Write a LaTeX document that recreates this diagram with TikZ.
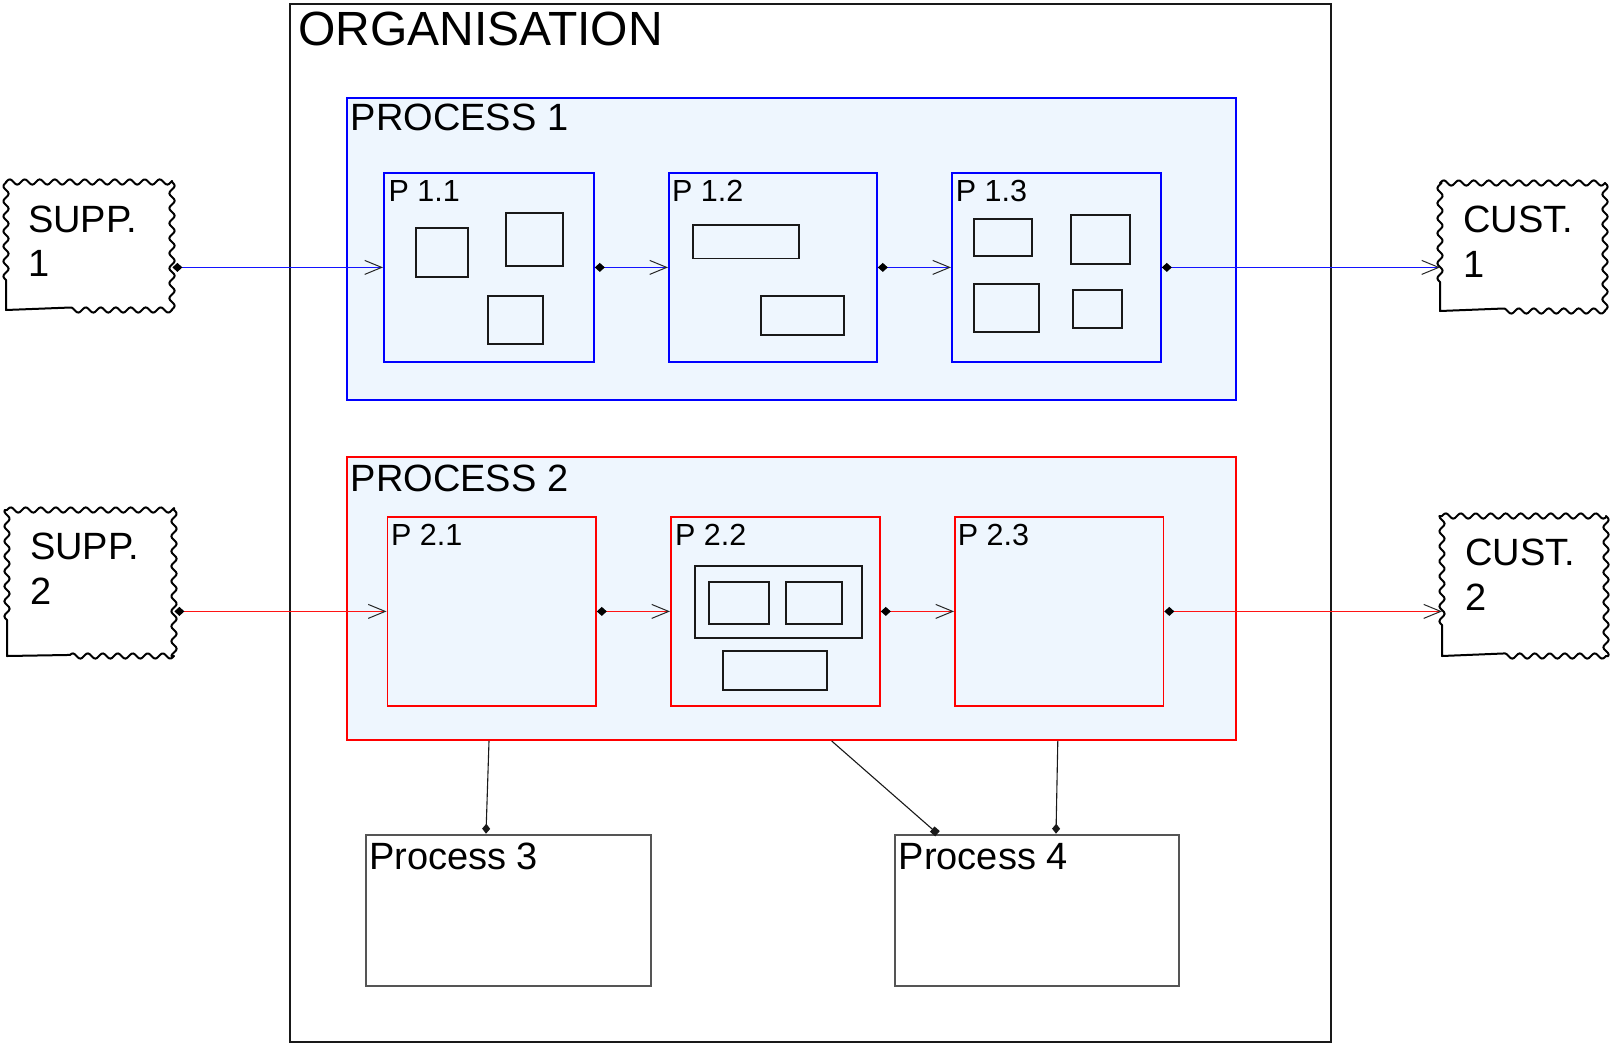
\documentclass[tikz,border=0pt]{standalone}
\usepackage{fontspec}
\setmainfont{Liberation Sans}
\usetikzlibrary{arrows.meta,calc}

\definecolor{paleblue}{RGB}{238,246,254}
\definecolor{boxgray}{RGB}{85,85,85}
\definecolor{linkblue}{RGB}{20,20,255}
\definecolor{linkred}{RGB}{255,20,20}

\tikzset{
  box/.style={rectangle, inner sep=0pt, anchor=north west},
  orgbox/.style={box, draw=black!90, line width=2pt},
  groupblue/.style={box, draw=blue, fill=paleblue, line width=2pt},
  groupred/.style={box, draw=red, fill=paleblue, line width=2pt},
  stepblue/.style={box, draw=blue, line width=1.8pt},
  stepred/.style={box, draw=red, line width=1.8pt},
  plainbox/.style={box, draw=boxgray, line width=2pt, fill=white},
  detail/.style={draw=black!90, line width=1.8pt},
  area/.style={box, minimum width=0pt},
  wavyline/.style={draw=black, line width=2pt, line join=round},
  lbl/.style={inner sep=0pt, anchor=base west},
  flow/.style={line width=1.2pt,
    {Diamond[length=10pt,width=9pt,color=black]}-{Straight Barb[length=17pt,width=14pt,line width=1pt,color=black!85]}},
  flowblue/.style={flow, draw=linkblue},
  flowred/.style={flow, draw=linkred},
  feed/.style={line width=1.1pt, draw=black!90},
}

\newcommand\hugefs{\fontsize{48}{52}\selectfont}
\newcommand\bigfs{\fontsize{38}{43}\selectfont}
\newcommand\midfs{\fontsize{30.5}{35}\selectfont}

% wavy frame: left x, top y, right x, bottom y,
% y where the left edge turns wavy, x where the bottom edge turns straight
% (wave period 15, so the phase is 24 degrees per unit)
\newcommand\wavyframe[6]{%
  \draw[wavyline] (#1,#4) -- (#1,#5)
    -- plot[domain=#5:#2, samples=60] ({#1-2.6*sin(24*(#5-\x))}, \x)
    -- plot[domain=#1:#3, samples=120] (\x, {#2-2.6*sin(24*(\x-#1))})
    -- plot[domain=#2:#4, samples=100] ({#3+2.6*sin(24*(\x-#2))}, \x)
    -- plot[domain=#3:#6, samples=70] (\x, {#4+2.6*sin(24*(#3-\x))})
    -- cycle;}

\begin{document}
\begin{tikzpicture}[x=1pt,y=-1pt]
  \fill[white] (0,0) rectangle (1612,1042);
  \useasboundingbox (0,0) rectangle (1612,1042);

  % organisation frame
  \node[orgbox, minimum width=1041, minimum height=1038] (org) at (289,3) {};
  \node[lbl, font=\hugefs] (orgtxt) at (298,45) {ORGANISATION};

  % process groups
  \node[groupblue, minimum width=889, minimum height=302] (proc1) at (346,97) {};
  \node[lbl, font=\bigfs] (proc1txt) at (350.5,130) {PROCESS 1};
  \node[groupred, minimum width=889, minimum height=283.5] (proc2) at (346,455.5) {};
  \node[lbl, font=\bigfs] (proc2txt) at (350.5,491) {PROCESS 2};

  % steps of process 1
  \node[stepblue, minimum width=210, minimum height=189] (p11) at (383,172) {};
  \node[stepblue, minimum width=208, minimum height=189] (p12) at (668,172) {};
  \node[stepblue, minimum width=209, minimum height=189] (p13) at (951,172) {};
  \node[lbl, font=\midfs] (p11txt) at (388.5,201) {P 1.1};
  \node[lbl, font=\midfs] (p12txt) at (672,201) {P 1.2};
  \node[lbl, font=\midfs] (p13txt) at (955.7,201) {P 1.3};

  % steps of process 2
  \node[stepred, minimum width=208.5, minimum height=189] (p21) at (386.5,516) {};
  \node[stepred, minimum width=209, minimum height=189] (p22) at (670,516) {};
  \node[stepred, minimum width=208.5, minimum height=189] (p23) at (954,516) {};
  \node[lbl, font=\midfs] (p21txt) at (391,545) {P 2.1};
  \node[lbl, font=\midfs] (p22txt) at (675,545) {P 2.2};
  \node[lbl, font=\midfs] (p23txt) at (957.7,545) {P 2.3};

  % sub-activities
  \draw[detail] (415.7,227.7) rectangle (468.3,277.3);
  \draw[detail] (506,213.3) rectangle (562.7,265.7);
  \draw[detail] (488.3,295.7) rectangle (543.3,343.7);
  \draw[detail] (693,225) rectangle (799,258.5);
  \draw[detail] (761,296) rectangle (844.3,335);
  \draw[detail] (974.3,219) rectangle (1031.7,255.7);
  \draw[detail] (1071,215) rectangle (1130,264);
  \draw[detail] (974.3,284) rectangle (1039,332.3);
  \draw[detail] (1072.7,290) rectangle (1121.7,328.3);
  \draw[detail] (695,565.7) rectangle (862,638);
  \draw[detail] (709,581.7) rectangle (769.3,623.7);
  \draw[detail] (786,581.7) rectangle (842.3,623.7);
  \draw[detail] (722.7,650.7) rectangle (826.7,690.3);

  % supporting processes
  \node[plainbox, minimum width=284.7, minimum height=151] (proc3) at (365,833.7) {};
  \node[plainbox, minimum width=283.6, minimum height=151] (proc4) at (894.4,833.7) {};
  \node[lbl, font=\bigfs] (proc3txt) at (369,869.7) {Process 3};
  \node[lbl, font=\bigfs] (proc4txt) at (898.6,869.7) {Process 4};

  % suppliers and customers
  \node[area, minimum width=166, minimum height=128] (supp1) at (6,182) {};
  \node[area, minimum width=167, minimum height=146] (supp2) at (7,510) {};
  \node[area, minimum width=165, minimum height=128] (cust1) at (1440,183) {};
  \node[area, minimum width=164, minimum height=140] (cust2) at (1442,516) {};
  \wavyframe{6}{182}{172}{310}{280}{70}
  \wavyframe{7}{510}{174}{656}{620}{70}
  \wavyframe{1440}{183}{1605}{311}{282}{1503}
  \wavyframe{1442}{516}{1606}{656}{625}{1505}
  \node[lbl, font=\bigfs] (supp1a) at (28,232.7) {SUPP.};
  \node[lbl, font=\bigfs] (supp1b) at (28,276) {1};
  \node[lbl, font=\bigfs] (supp2a) at (30,559) {SUPP.};
  \node[lbl, font=\bigfs] (supp2b) at (30,604) {2};
  \node[lbl, font=\bigfs] (cust1a) at (1463,232) {CUST.};
  \node[lbl, font=\bigfs] (cust1b) at (1463,277) {1};
  \node[lbl, font=\bigfs] (cust2a) at (1465,565) {CUST.};
  \node[lbl, font=\bigfs] (cust2b) at (1465,610) {2};

  % flow of process 1
  \draw[flowblue] (supp1.east |- p11.west) -- (p11.west);
  \draw[flowblue] (p11.east) -- (p12.west);
  \draw[flowblue] (p12.east) -- (p13.west);
  \draw[flowblue] (p13.east) -- (p13.east -| cust1.west);

  % flow of process 2
  \draw[flowred] (supp2.east |- p21.west) -- (p21.west);
  \draw[flowred] (p21.east) -- (p22.west);
  \draw[flowred] (p22.east) -- (p23.west);
  \draw[flowred] (p23.east) -- (p23.east -| cust2.west);

  % links from process 2 to processes 3 and 4
  \coordinate (from3) at ($(proc2.south west)+(143,0)$);
  \coordinate (from4a) at ($(proc2.south west)+(485.7,0)$);
  \coordinate (from4b) at ($(proc2.south west)+(711.8,0)$);
  \coordinate (to3) at ($(proc3.north west)+(121,0)$);
  \coordinate (to4a) at ($(proc4.north west)+(43.1,0)$);
  \coordinate (to4b) at ($(proc4.north west)+(161.6,0)$);
  \draw[feed, -{Diamond[length=10pt,width=8pt]}] (from3) -- (to3);
  \draw[feed, -{Square[length=7pt,width=7pt]}] (from4a) -- (to4a);
  \draw[feed, -{Diamond[length=10pt,width=8pt]}] (from4b) -- (to4b);
\end{tikzpicture}
\end{document}
